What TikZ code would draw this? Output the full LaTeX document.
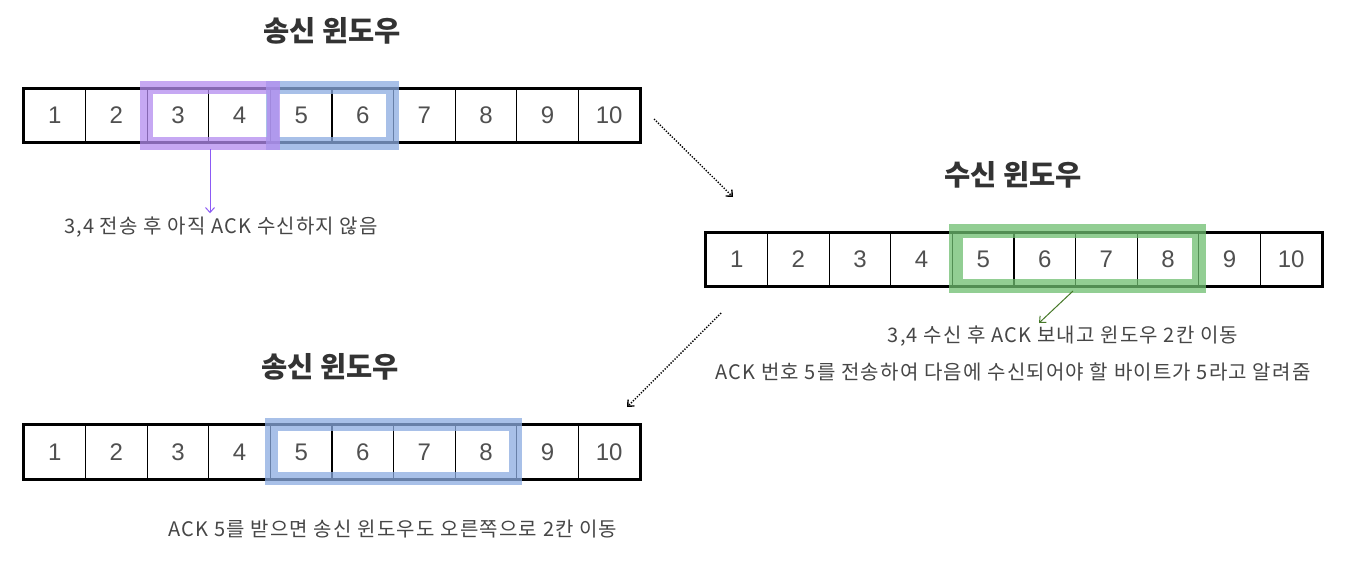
\documentclass[tikz,border=0pt]{standalone}
\usepackage{fontspec}
\setmainfont{Noto Sans CJK KR}
\newfontfamily\lblfont[LetterSpace=6]{Noto Sans CJK KR}
\newfontfamily\numfont{Liberation Sans}
\usetikzlibrary{arrows.meta}
\definecolor{numgray}{RGB}{80,80,80}
\definecolor{txtgray}{RGB}{70,70,70}
\definecolor{ttlgray}{RGB}{51,51,51}
\definecolor{hlpurple}{RGB}{180,140,240}
\definecolor{hlblue}{RGB}{140,172,225}
\definecolor{hlgreen}{RGB}{110,190,112}
\definecolor{arrpurple}{RGB}{140,90,245}
\definecolor{arrgreen}{RGB}{70,120,40}
\tikzset{
  cell/.style={draw=black, line width=1.3pt, minimum width=61.6pt, minimum height=53pt,
    inner sep=0pt, text=numgray, font=\numfont\fontsize{24}{24}\selectfont},
  frame/.style={draw=black, line width=3pt},
  band/.style={line width=13pt, draw opacity=0.75},
  title/.style={text=ttlgray, font=\fontsize{28.5}{28.5}\selectfont\bfseries},
  label/.style={text=txtgray, font=\lblfont\fontsize{20}{20}\selectfont},
  tip/.style={-{Straight Barb[length=5pt,width=9pt]}},
  dotarrow/.style={tip, black, line width=1.4pt, dash pattern=on 1.3pt off 1.5pt},
}
\begin{document}
\begin{tikzpicture}[x=1pt,y=-1pt]
\useasboundingbox (0,0) rectangle (1351,565);
\fill[white] (0,0) rectangle (1351,565);

% ---------- top sender window ----------
\node[title] (t1) at (332,31) {송신 윈도우};
\foreach \i in {1,...,10} {
  \node[cell] (s\i) at ({24+61.6*(\i-0.5)},115.5) {\i};
}
\draw[frame] (s1.north west) rectangle (s10.south east);
\draw[band, hlblue] (272.5,87.5) rectangle (392.5,143);
\draw[band, hlpurple] (146.5,87.5) rectangle (273.5,143);
\coordinate (pa) at (210,149);
\node[label] (l1) at (221,227) {3,4 전송 후 아직 ACK 수신하지 않음};
\draw[tip, arrpurple, line width=1pt] (pa) -- (pa |- l1.north);

% ---------- receiver window ----------
\node[title] (t2) at (1013,175) {수신 윈도우};
\foreach \i in {1,...,10} {
  \node[cell] (r\i) at ({706+61.6*(\i-0.5)},259.5) {\i};
}
\draw[frame] (r1.north west) rectangle (r10.south east);
\draw[band, hlgreen, line width=14pt] (956,231) rectangle (1199,285.5);
\node[label] (l2) at (1063,336) {3,4 수신 후 ACK 보내고 윈도우 2칸 이동};
\node[label] (l3) at (1013,372) {ACK 번호 5를 전송하여 다음에 수신되어야 할 바이트가 5라고 알려줌};
\coordinate (ga) at (1073,291);
\coordinate (gb) at (1039,323);
\draw[tip, arrgreen, line width=1pt] (ga) -- (gb);

% ---------- bottom sender window ----------
\node[title] (t3) at (330,367) {송신 윈도우};
\foreach \i in {1,...,10} {
  \node[cell] (b\i) at ({24+61.6*(\i-0.5)},452) {\i};
}
\draw[frame] (b1.north west) rectangle (b10.south east);
\draw[band, hlblue] (271.5,424) rectangle (515.5,478.5);
\node[label] (l4) at (393,529) {ACK 5를 받으면 송신 윈도우도 오른쪽으로 2칸 이동};

% ---------- dotted transition arrows ----------
\coordinate (d1a) at (654,119);
\coordinate (d1b) at (733,197);
\coordinate (d2a) at (721,313);
\coordinate (d2b) at (627,407);
\draw[dotarrow] (d1a) -- (d1b);
\draw[dotarrow] (d2a) -- (d2b);
\end{tikzpicture}
\end{document}
